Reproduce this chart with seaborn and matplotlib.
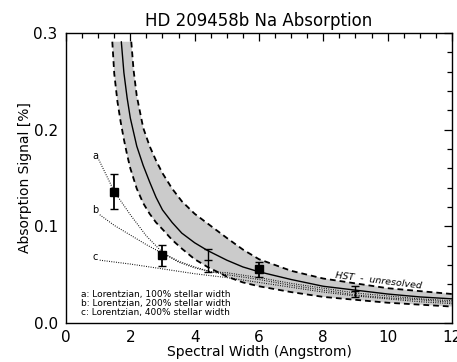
import numpy as np
import pandas as pd
import matplotlib
matplotlib.use("Agg")
import matplotlib.pyplot as plt
from matplotlib.ticker import MultipleLocator
import seaborn as sns

# ---- data ----
w_model = [1.72, 1.8, 1.9, 2.0, 2.2, 2.4, 2.6, 2.8, 3.0, 3.3, 3.6, 4.0, 4.4, 5.0, 5.5, 6.0, 7.0, 8.0, 9.0, 10.0, 11.0, 12.0]
y_model = [0.291, 0.259, 0.233, 0.212, 0.183, 0.163, 0.146, 0.130, 0.117, 0.104, 0.093, 0.083, 0.075, 0.065, 0.058, 0.053, 0.045, 0.038, 0.034, 0.030, 0.027, 0.025]

w_upper = [2.03, 2.1, 2.2, 2.4, 2.6, 2.8, 3.0, 3.3, 3.6, 4.0, 4.4, 5.0, 5.5, 6.0, 7.0, 8.0, 9.0, 10.0, 11.0, 12.0]
y_upper = [0.291, 0.262, 0.235, 0.202, 0.183, 0.168, 0.155, 0.139, 0.126, 0.113, 0.103, 0.088, 0.076, 0.066, 0.054, 0.046, 0.041, 0.036, 0.033, 0.030]

w_lower = [1.44, 1.5, 1.6, 1.7, 1.8, 1.9, 2.0, 2.2, 2.4, 2.6, 2.8, 3.0, 3.3, 3.6, 4.0, 4.4, 5.0, 5.5, 6.0, 7.0, 8.0, 9.0, 10.0, 11.0, 12.0]
y_lower = [0.291, 0.258, 0.229, 0.208, 0.190, 0.174, 0.160, 0.139, 0.124, 0.113, 0.104, 0.097, 0.086, 0.077, 0.066, 0.058, 0.048, 0.042, 0.038, 0.032, 0.027, 0.024, 0.021, 0.019, 0.017]

w_a = [1.02, 1.5, 2.0, 2.5, 3.0, 3.5, 4.0, 4.5, 5.0, 6.0, 7.0, 8.0, 9.0, 10.0, 11.0, 12.0]
y_a = [0.169, 0.136, 0.112, 0.090, 0.073, 0.063, 0.057, 0.053, 0.052, 0.047, 0.041, 0.036, 0.031, 0.028, 0.025, 0.023]
w_b = [1.05, 1.5, 2.0, 2.5, 3.0, 3.5, 4.0, 4.5, 5.0, 6.0, 7.0, 8.0, 9.0, 10.0, 11.0, 12.0]
y_b = [0.112, 0.101, 0.091, 0.081, 0.072, 0.064, 0.058, 0.053, 0.050, 0.045, 0.039, 0.034, 0.029, 0.026, 0.024, 0.0215]
w_c = [1.05, 2.0, 3.0, 4.0, 5.0, 6.0, 7.0, 8.0, 9.0, 10.0, 11.0, 12.0]
y_c = [0.065, 0.061, 0.056, 0.051, 0.047, 0.042, 0.037, 0.032, 0.028, 0.025, 0.022, 0.020]

# measured points (filled squares)
obs_w = [1.5, 3.0, 6.0]
obs_y = [0.136, 0.070, 0.0555]
obs_err = [0.018, 0.011, 0.0075]

# open error bars (4.4 A and HST)
bar_w = [4.4, 8.97]
bar_y = [0.065, 0.033]
bar_err = [0.012, 0.0057]

curve_labels = ["a", "b", "c"]
curve_label_y = [0.1727, 0.117, 0.0686]
legend_lines = ["a: Lorentzian, 100% stellar width",
                "b: Lorentzian, 200% stellar width",
                "c: Lorentzian, 400% stellar width"]

# ---- plot ----
sns.set_style("white")
plt.rcParams['font.family'] = ['DejaVu Sans']
plt.rcParams['text.color'] = 'black'
plt.rcParams['axes.labelcolor'] = 'black'
plt.rcParams['xtick.color'] = 'black'
plt.rcParams['ytick.color'] = 'black'

fig = plt.figure(figsize=(4.57, 3.62), dpi=100)
ax = fig.add_axes([0.1444, 0.1077, 0.8446, 0.8011])

band_x = np.r_[w_lower, w_upper[::-1]]
band_y = np.r_[y_lower, y_upper[::-1]]
ax.fill(band_x, band_y, color="#cbcbcb", lw=0, zorder=1)

dash = (0, (3.2, 2.2))
sns.lineplot(x=w_upper, y=y_upper, ax=ax, color="black", lw=1.3, linestyle=dash, sort=False, estimator=None, zorder=3)
sns.lineplot(x=w_lower, y=y_lower, ax=ax, color="black", lw=1.3, linestyle=dash, sort=False, estimator=None, zorder=3)
sns.lineplot(x=w_model, y=y_model, ax=ax, color="black", lw=1.0, sort=False, estimator=None, zorder=4)

dot = (0, (0.8, 1.3))
for wx, wy in [(w_a, y_a), (w_b, y_b), (w_c, y_c)]:
    sns.lineplot(x=wx, y=wy, ax=ax, color="black", lw=0.8, linestyle=dot, sort=False, estimator=None, zorder=2)

ax.errorbar(obs_w, obs_y, yerr=obs_err, fmt="s", color="black", ms=6, capsize=3, elinewidth=1.3, capthick=1.0, zorder=5)
ax.errorbar(bar_w, bar_y, yerr=bar_err, fmt="_", color="black", ms=6, capsize=3, elinewidth=1.0, capthick=1.0, zorder=5)

for lab, ly in zip(curve_labels, curve_label_y):
    ax.text(0.9, ly, lab, fontsize=7, ha="center", va="center")

for i, t in enumerate(legend_lines):
    ax.text(0.46, 0.029 - i * 0.0093, t, fontsize=6.5, ha="left", va="center")

ax.text(9.72, 0.0434, "HST  -  unresolved", fontsize=6.8, style="italic",
        rotation=-7, ha="center", va="center", rotation_mode="anchor")

ax.set_xlim(0, 12)
ax.set_ylim(0, 0.3)
ax.set_xticks([0, 2, 4, 6, 8, 10, 12])
ax.set_yticks([0.0, 0.1, 0.2, 0.3])
ax.set_yticklabels(["0.0", "0.1", "0.2", "0.3"])
ax.xaxis.set_minor_locator(MultipleLocator(0.5))
ax.yaxis.set_minor_locator(MultipleLocator(0.02))
ax.tick_params(which="both", direction="in", top=True, right=True, labelsize=11, width=0.9)
ax.tick_params(axis="x", pad=5)
ax.tick_params(axis="y", pad=6)
ax.tick_params(which="major", length=6)
ax.tick_params(which="minor", length=3.5)
for s in ax.spines.values():
    s.set_color("black")
    s.set_linewidth(1.0)

ax.set_xlabel("Spectral Width (Angstrom)", fontsize=10, labelpad=0)
ax.set_ylabel("Absorption Signal [%]", fontsize=10, labelpad=1)
ax.set_title("HD 209458b Na Absorption", fontsize=12, pad=5)

fig.savefig("out.png", dpi=100)
